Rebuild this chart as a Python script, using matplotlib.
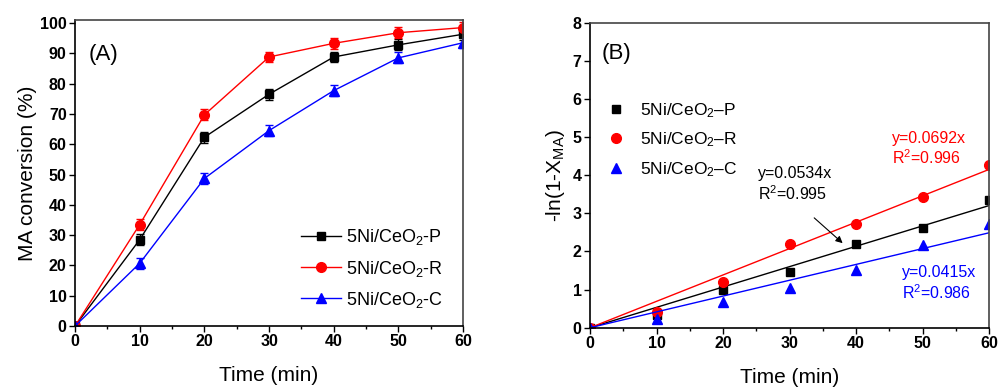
import matplotlib
matplotlib.use('Agg')
from matplotlib import pyplot as plt
from matplotlib.ticker import MultipleLocator

plt.rcParams['font.family'] = ['Liberation Sans', 'DejaVu Sans']
plt.rcParams['mathtext.fontset'] = 'custom'
plt.rcParams['mathtext.rm'] = 'Liberation Sans'
plt.rcParams['mathtext.it'] = 'Liberation Sans:italic'
plt.rcParams['mathtext.bf'] = 'Liberation Sans:bold'

time = [0, 10, 20, 30, 40, 50, 60]

# panel A: conversion (%)
conv_p = [0, 28.5, 62.3, 76.5, 88.8, 92.8, 96.3]
conv_r = [0, 33.5, 69.7, 88.8, 93.3, 96.8, 98.5]
conv_c = [0, 20.7, 48.7, 64.5, 77.7, 88.5, 93.5]
err_p = [0, 1.8, 1.8, 1.8, 1.8, 1.8, 1.8]
err_r = [0, 1.8, 1.8, 1.8, 1.8, 1.8, 1.8]
err_c = [0, 1.8, 1.8, 1.8, 1.8, 1.8, 1.8]

# panel B: -ln(1-X)
kin_p = [0, 0.33, 0.98, 1.45, 2.19, 2.62, 3.35]
kin_r = [0, 0.41, 1.19, 2.19, 2.72, 3.44, 4.27]
kin_c = [0, 0.24, 0.68, 1.05, 1.52, 2.17, 2.73]
slopes = [0.0534, 0.0692, 0.0415]
r2 = ['0.995', '0.996', '0.986']

labels_a = ['5Ni/CeO$_2$-P', '5Ni/CeO$_2$-R', '5Ni/CeO$_2$-C']
labels_b = ['5Ni/CeO$_2$\u2013P', '5Ni/CeO$_2$\u2013R', '5Ni/CeO$_2$\u2013C']
colors = ['black', 'red', 'blue']
markers = ['s', 'o', '^']


def style_axes(ax):
    ax.tick_params(which='both', direction='out', top=False, right=False)
    ax.tick_params(which='major', length=4, width=1, labelsize=11.5, pad=2)
    ax.tick_params(which='minor', length=2.5, width=1)
    ax.xaxis.set_minor_locator(MultipleLocator(5))
    for lab in ax.get_xticklabels() + ax.get_yticklabels():
        lab.set_fontweight('bold')
    for s in ['top', 'right']:
        ax.spines[s].set_color('#444444')
    for s in ax.spines.values():
        s.set_linewidth(1.2)


fig = plt.figure(figsize=(9.98, 3.87), dpi=100)

# ---- (A)
ax1 = fig.add_axes([0.0752, 0.1576, 0.3888, 0.7907])
convs = [conv_p, conv_r, conv_c]
errs = [err_p, err_r, err_c]
sizes = [5.5, 7, 7]
for y, e, c, m, lab, ms in zip(convs, errs, colors, markers, labels_a, sizes):
    ax1.errorbar(time, y, yerr=e, color=c, marker=m, ms=ms, lw=1,
                 capsize=3, elinewidth=1, capthick=1, label=lab)
ax1.set_xlim(0, 60)
ax1.set_ylim(0, 101)
ax1.xaxis.set_major_locator(MultipleLocator(10))
ax1.yaxis.set_major_locator(MultipleLocator(10))
style_axes(ax1)
ax1.set_xlabel('Time (min)', fontsize=15, labelpad=12)
ax1.set_ylabel('MA conversion (%)', fontsize=15, labelpad=2)
ax1.text(0.035, 0.87, '(A)', transform=ax1.transAxes, fontsize=16)
handles, lbls = ax1.get_legend_handles_labels()
handles = [h[0] for h in handles]
ax1.legend(handles, lbls, loc='lower right', bbox_to_anchor=(0.99, 0.0),
           frameon=False, fontsize=13, handlelength=2.2, labelspacing=0.62,
           handletextpad=0.3)

# ---- (B)
ax2 = fig.add_axes([0.5912, 0.1532, 0.3998, 0.788])
kins = [kin_p, kin_r, kin_c]
for y, c, m, lab, k in zip(kins, colors, markers, labels_b, slopes):
    ms = 6 if m == 's' else 7
    ax2.plot(time, y, ls='none', color=c, marker=m, ms=ms, label=lab)
    ax2.plot([time[0], time[-1]], [k * time[0], k * time[-1]], color=c, lw=1)
ax2.set_xlim(0, 60)
ax2.set_ylim(0, 8)
ax2.xaxis.set_major_locator(MultipleLocator(10))
ax2.yaxis.set_major_locator(MultipleLocator(1))
style_axes(ax2)
ax2.set_xlabel('Time (min)', fontsize=15, labelpad=12)
ax2.set_ylabel(r'-ln(1-X$_{\mathrm{MA}}$)', fontsize=15, labelpad=4)
ax2.text(0.03, 0.88, '(B)', transform=ax2.transAxes, fontsize=16)
ax2.legend(loc='upper left', bbox_to_anchor=(-0.01, 0.795), frameon=False,
           fontsize=12.5, handlelength=1.6, labelspacing=0.62, handletextpad=0.6)

ax2.text(25.3, 4.25, 'y=%.4fx\nR$^2$=%s' % (slopes[0], r2[0]), color='black',
         fontsize=11.5, va='top', linespacing=1.2)
ax2.text(45.4, 5.17, 'y=%.4fx\nR$^2$=%s' % (slopes[1], r2[1]), color='red',
         fontsize=11.5, va='top', linespacing=1.2)
ax2.text(46.9, 1.65, 'y=%.4fx\nR$^2$=%s' % (slopes[2], r2[2]), color='blue',
         fontsize=11.5, va='top', linespacing=1.2)
ax2.annotate('', xy=(38.3, 2.17), xytext=(33.4, 2.93),
             arrowprops=dict(arrowstyle='-|>', color='black', lw=0.8,
                             mutation_scale=10))

fig.savefig('out.png', dpi=100)
plt.close(fig)
